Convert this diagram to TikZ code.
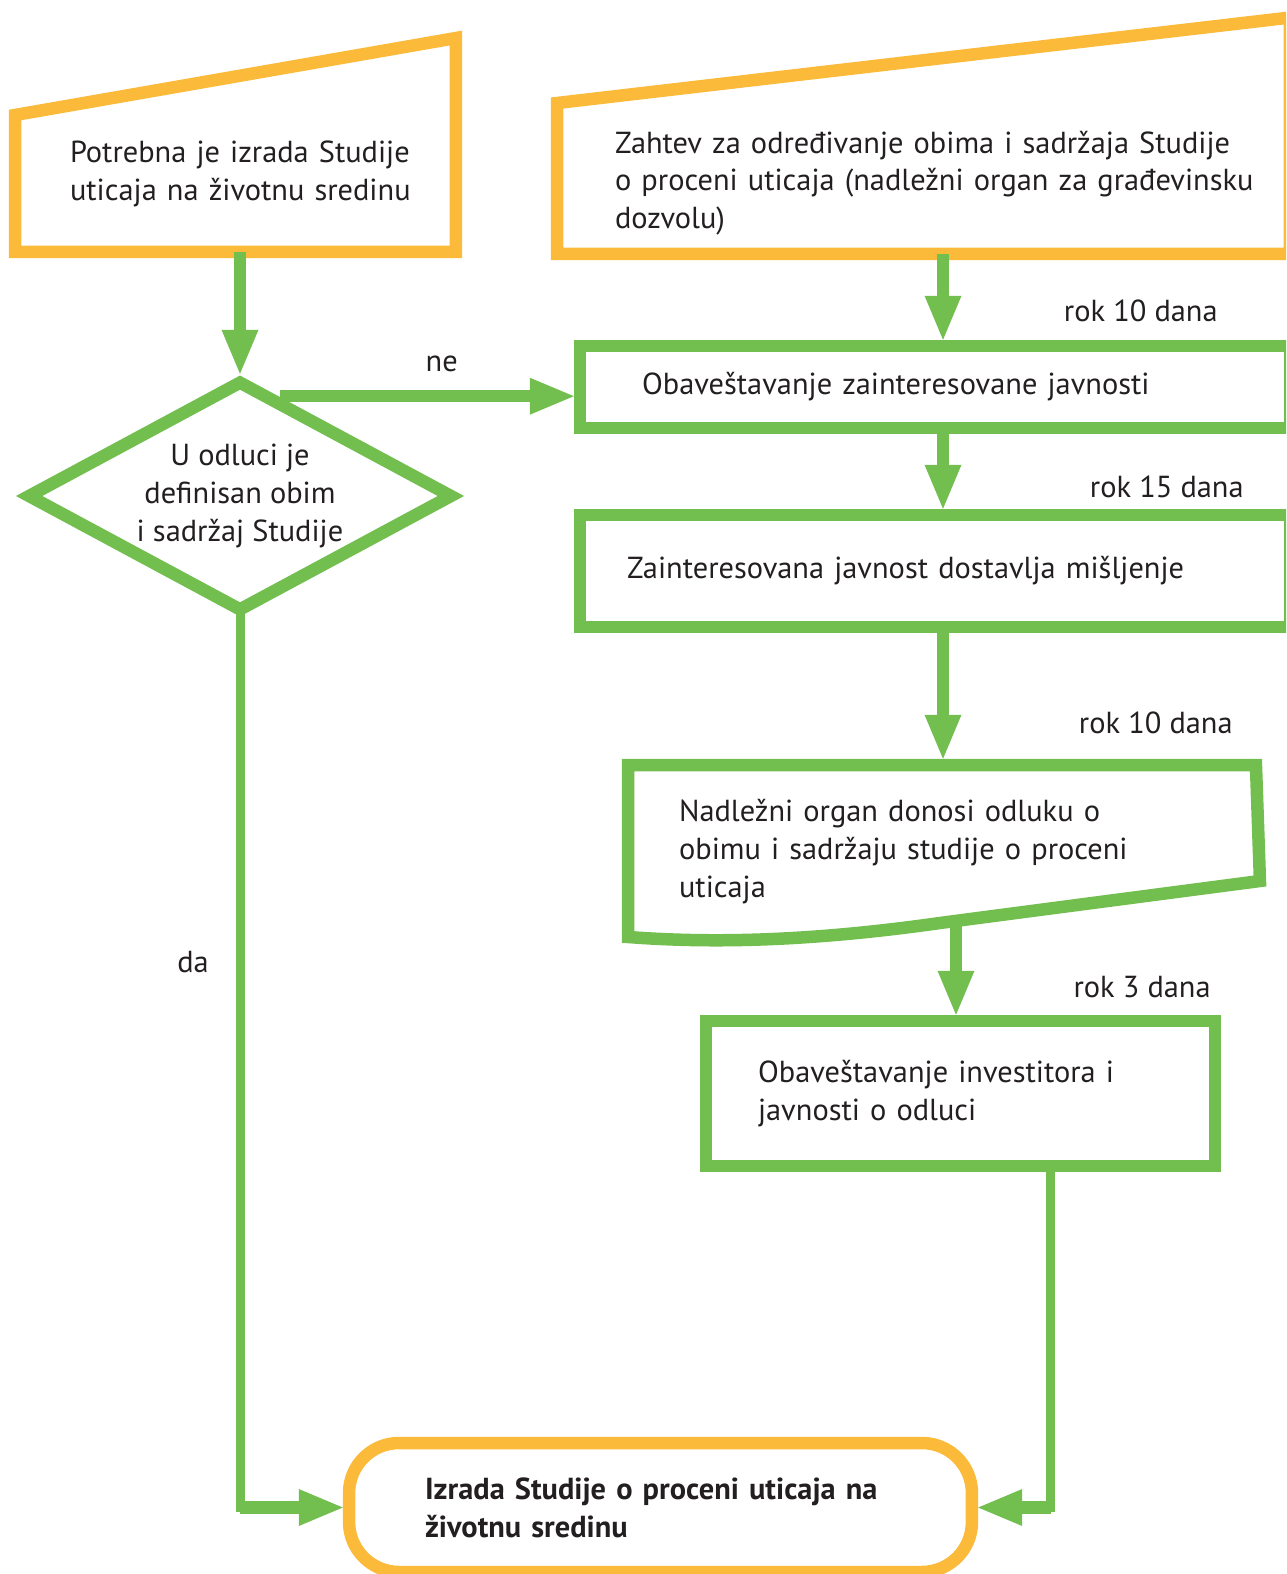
\documentclass[tikz,border=0pt]{standalone}
\usepackage{fontspec}
\setmainfont{PT Sans}
\usetikzlibrary{shapes.geometric, arrows.meta, positioning, calc}
\definecolor{sGreen}{RGB}{114,191,80}
\definecolor{sOrange}{RGB}{252,186,58}
\definecolor{sText}{RGB}{35,31,32}
\newcommand{\boxfont}{\fontsize{17.3}{21.5}\selectfont}
\tikzset{
  sbox/.style={rectangle, draw=sGreen, line width=0.25cm, inner sep=0pt,
               align=left, font=\boxfont, text=sText},
  sinput/.style={rectangle, inner sep=0pt, outer sep=0pt,
                 align=left, font=\boxfont, text=sText},
  sinputline/.style={draw=sOrange, line width=0.25cm},
  sdocline/.style={draw=sGreen, line width=0.25cm},
  sdecision/.style={diamond, draw=sGreen, line width=0.25cm, inner sep=0pt,
                    shape aspect=1.84, minimum width=8.54cm, minimum height=4.64cm,
                    align=center, font=\boxfont, text=sText},
  sterm/.style={rectangle, rounded corners=1.0cm, draw=sOrange, line width=0.25cm,
                inner sep=0pt, align=left, font=\boxfont\bfseries, text=sText},
  sflow/.style={-{Triangle[length=0.88cm, width=0.74cm, line width=0pt]},
                line width=0.25cm, draw=sGreen},
  slink/.style={line width=0.18cm, draw=sGreen, line cap=rect},
  snote/.style={font=\boxfont, text=sText, inner sep=0pt},
}

\begin{document}
\begin{tikzpicture}[x=0.02cm, y=-0.02cm]
  \useasboundingbox (0,0) rectangle (1286,1574);
  \clip (0,0) rectangle (1286,1574);

  % ulazi
  \node[sinput, minimum width=9.1cm, minimum height=3.12cm, text width=6.9cm]
    (need) at (242.5,174) {Potrebna je izrada Studije\\ uticaja na životnu sredinu};
  \draw[sinputline] (need.south west) -- ([xshift=-0.28cm]need.south east)
    -- ([xshift=-0.28cm, yshift=1.16cm]need.north east)
    -- ([yshift=-0.38cm]need.north west) -- cycle;

  \node[sinput, minimum width=15.32cm, minimum height=2.84cm, text width=13cm]
    (req) at (940,183) {Zahtev za određivanje obima i sadržaja Studije\\
    o proceni uticaja (nadležni organ za građevinsku\\ dozvolu)};
  \draw[sinputline] (req.south west) -- ([xshift=-0.66cm]req.south east)
    -- ([xshift=-0.66cm, yshift=1.89cm]req.north east)
    -- ([yshift=0.18cm]req.north west) -- cycle;

  % odluka
  \node[sdecision] (dec) at (240,496) {U odluci je\\ definisan obim\\ i sadržaj Studije};

  % postupak
  \node[sbox, minimum width=14.2cm, minimum height=1.64cm, text width=11.72cm]
    (inform) at (935,387) {Obaveštavanje zainteresovane javnosti};
  \node[sbox, minimum width=14.2cm, minimum height=2.24cm, text width=12.32cm]
    (opinion) at (935,571) {Zainteresovana javnost dostavlja mišljenje};

  \node[sinput, minimum width=12.6cm, minimum height=3.46cm, text width=10.56cm]
    (ruling) at (943,851.5) {Nadležni organ donosi odluku o\\
    obimu i sadržaju studije o proceni\\ uticaja};
  \draw[sdocline] (ruling.north west) -- ([xshift=-0.04cm]ruling.north east)
    -- ([xshift=0.04cm, yshift=1.14cm]ruling.south east)
    -- coordinate[pos=0.95] (rulingout) ([xshift=-6.36cm, yshift=0.3cm]ruling.south east)
    .. controls ([xshift=3.84cm, yshift=-0.04cm]ruling.south west)
    and ([xshift=1.84cm, yshift=-0.12cm]ruling.south west)
    .. ([yshift=0.02cm]ruling.south west) -- cycle;

  \node[sbox, minimum width=10.18cm, minimum height=2.9cm, text width=8.1cm]
    (notice) at (960.5,1093.5) {Obaveštavanje investitora i\\ javnosti o odluci};

  \node[sterm, minimum width=12.46cm, minimum height=2.58cm, text width=9.42cm]
    (result) at (660.5,1507.5) {Izrada Studije o proceni uticaja na\\ životnu sredinu};

  % tok
  \draw[sflow] (need.south -| dec.north) -- (dec.north);
  \draw[sflow] (dec.68) -- node[snote, pos=0.55, above=0.36cm] (lblne) {ne}
    (dec.68 -| inform.west);
  \draw[sflow] (req.south -| ruling.north) -- (inform.north -| ruling.north);
  \draw[sflow] (inform.south -| ruling.north) -- (opinion.north -| ruling.north);
  \draw[sflow, shorten >=0.125cm] (opinion.south -| ruling.north) -- (ruling.north);
  \draw[sflow] (rulingout) -- (rulingout |- notice.north);

  \coordinate (lbend) at (dec.south |- result.west);
  \draw[slink] (dec.south) -- (lbend);
  \draw[sflow] (lbend) -- (result.west);

  \coordinate (rbend) at ([xshift=1.8cm]notice.south |- result.east);
  \draw[slink] ([xshift=1.8cm]notice.south) -- (rbend);
  \draw[sflow] (rbend) -- (result.east);

  % rokovi
  \node[snote, anchor=base east] (rok1) at (1218,322) {rok 10 dana};
  \node[snote, anchor=base east] (rok2) at (1244,497) {rok 15 dana};
  \node[snote, anchor=base east] (rok3) at (1233,733) {rok 10 dana};
  \node[snote, anchor=base east] (rok4) at (1211,997) {rok 3 dana};
  \node[snote, anchor=base] (lblda) at (193,972) {da};
\end{tikzpicture}
\end{document}
